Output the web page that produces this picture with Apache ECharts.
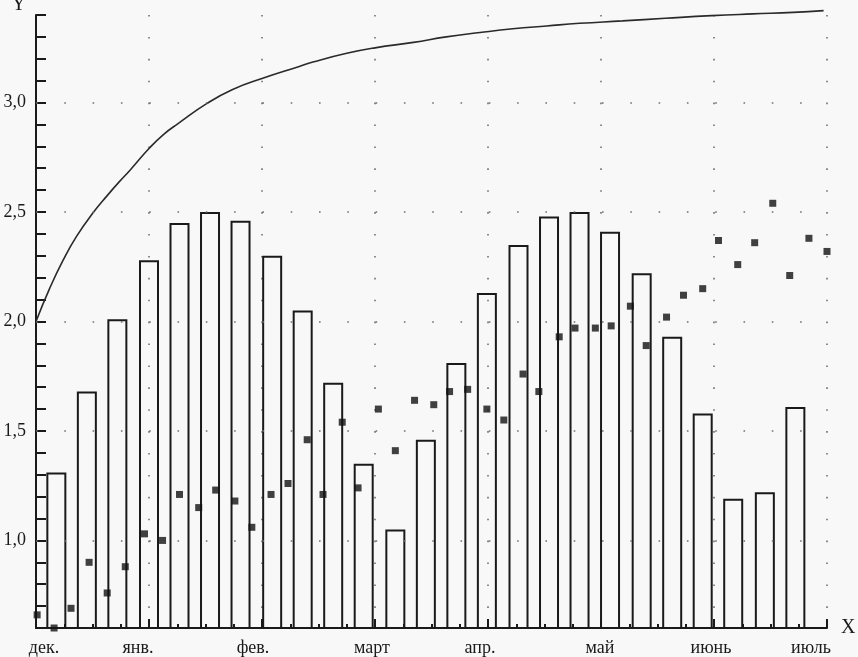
<!DOCTYPE html>
<html>
<head>
<meta charset="utf-8">
<script src="https://cdn.jsdelivr.net/npm/echarts@6/dist/echarts.min.js"></script>
<style>
html,body{margin:0;padding:0;background:#f8f8f8;}
#c{width:858px;height:657px;}
</style>
</head>
<body>
<div id="c"></div>
<script>
// Month labels at x = 0..7 (months from start of December)
const monthLabels = ['дек.', 'янв.', 'фев.', 'март', 'апр.', 'май', 'июнь', 'июль'];

// Bars (x in months, height in Y units)
const barX = [0.18, 0.45, 0.72, 1.00, 1.27, 1.54, 1.81, 2.09, 2.36, 2.63, 2.90, 3.18, 3.45,
              3.72, 3.99, 4.27, 4.54, 4.81, 5.08, 5.36, 5.63, 5.90, 6.17, 6.45, 6.72];
const barY = [1.31, 1.68, 2.01, 2.28, 2.45, 2.50, 2.46, 2.30, 2.05, 1.72, 1.35, 1.05, 1.46,
              1.81, 2.13, 2.35, 2.48, 2.50, 2.41, 2.22, 1.93, 1.58, 1.19, 1.22, 1.61];

// Square markers
const dotX = [0.01, 0.16, 0.31, 0.47, 0.63, 0.79, 0.96, 1.12, 1.27, 1.44, 1.59, 1.76, 1.91,
              2.08, 2.23, 2.40, 2.54, 2.71, 2.85, 3.03, 3.18, 3.35, 3.52, 3.66, 3.82, 3.99,
              4.14, 4.31, 4.45, 4.63, 4.77, 4.95, 5.09, 5.26, 5.40, 5.58, 5.73, 5.90, 6.04,
              6.21, 6.36, 6.52, 6.67, 6.84, 7.00];
const dotY = [0.66, 0.60, 0.69, 0.90, 0.76, 0.88, 1.03, 1.00, 1.21, 1.15, 1.23, 1.18, 1.06,
              1.21, 1.26, 1.46, 1.21, 1.54, 1.24, 1.60, 1.41, 1.64, 1.62, 1.68, 1.69, 1.60,
              1.55, 1.76, 1.68, 1.93, 1.97, 1.97, 1.98, 2.07, 1.89, 2.02, 2.12, 2.15, 2.37,
              2.26, 2.36, 2.54, 2.21, 2.38, 2.32];

// Saturation curve
const curveX = [0, 0.12, 0.24, 0.36, 0.51, 0.63, 0.74, 0.83, 1.00, 1.13, 1.26, 1.51, 1.74,
                2.00, 2.33, 2.45, 2.75, 3.00, 3.34, 3.63, 3.93, 4.22, 4.52, 4.81, 5.19, 5.57,
                5.98, 6.34, 6.70, 6.97];
const curveY = [2.00, 2.15, 2.28, 2.39, 2.50, 2.575, 2.64, 2.69, 2.79, 2.855, 2.905, 2.995, 3.06,
                3.11, 3.165, 3.185, 3.225, 3.25, 3.275, 3.30, 3.32, 3.337, 3.35, 3.362, 3.373, 3.385,
                3.397, 3.405, 3.412, 3.42];

// Horizontal dotted reference lines
const hGrid = [1.0, 1.5, 2.0, 2.5, 3.0];

const FONT = 'Liberation Serif';
const INK = '#1a1a1a';
const DOT = '#707070';

const zip = (a, b) => a.map((v, i) => [v, b[i]]);

// label nudges (px) so month names sit like in the original print
const nudge = [8, -11, -9, -3, -8, -1, -3, -16];
const rich = {};
nudge.forEach((n, i) => {
  rich['m' + i] = {
    fontFamily: FONT, fontSize: 18, color: INK,
    padding: n >= 0 ? [0, 0, 0, 2 * n] : [0, -2 * n, 0, 0]
  };
});

const chart = echarts.init(document.getElementById('c'), null, {renderer: 'canvas'});
chart.setOption({
  backgroundColor: '#f8f8f8',
  animation: false,
  grid: {left: 36, right: 31, top: 15, bottom: 29, containLabel: false, outerBoundsMode: 'none'},
  xAxis: {
    type: 'value', min: 0, max: 7, interval: 1,
    name: 'X', nameLocation: 'end', nameGap: 14,
    nameTextStyle: {fontFamily: FONT, fontSize: 20, color: INK, verticalAlign: 'middle', align: 'left'},
    axisLine: {show: true, onZero: false, lineStyle: {color: INK, width: 2}},
    axisTick: {show: true, inside: true, length: 9, lineStyle: {color: INK, width: 2}},
    minorTick: {show: true, splitNumber: 4, length: 4, lineStyle: {color: INK, width: 2}},
    axisLabel: {
      show: true, margin: 11, showMinLabel: true, showMaxLabel: true,
      formatter: v => { const i = Math.round(v); return '{m' + i + '|' + monthLabels[i] + '}'; },
      rich: rich
    },
    splitLine: {show: true, showMinLine: false, showMaxLine: true,
      lineStyle: {color: DOT, width: 1.6, type: [1.6, 20.3]}},
    minorSplitLine: {show: false}
  },
  yAxis: {
    type: 'value', min: 0.6, max: 3.4, interval: 0.1,
    name: 'Y', nameLocation: 'end', nameGap: 10,
    nameTextStyle: {fontFamily: FONT, fontSize: 20, color: INK, align: 'right', verticalAlign: 'middle', padding: [0, 10, 0, 0]},
    axisLine: {show: true, onZero: false, lineStyle: {color: INK, width: 2}},
    axisTick: {show: true, inside: true, length: 10, lineStyle: {color: INK, width: 2}},
    axisLabel: {
      show: true, margin: 10, fontFamily: FONT, fontSize: 18, color: INK,
      showMinLabel: true, showMaxLabel: true,
      formatter: v => {
        const t = Math.round(v * 10);
        return (t >= 10 && t % 5 === 0) ? (t / 10).toFixed(1).replace('.', ',') : '';
      }
    },
    splitLine: {show: false}
  },
  series: [
    {
      type: 'line', data: zip(curveX, curveY), smooth: 0.5,
      showSymbol: false, symbol: 'none', clip: false, z: 4,
      lineStyle: {color: '#2a2a2a', width: 1.6},
      markLine: {
        silent: true, symbol: 'none', label: {show: false},
        lineStyle: {color: DOT, width: 1.6, type: [1.6, 26.7]},
        data: hGrid.map(v => ({yAxis: v}))
      }
    },
    {
      type: 'bar', data: zip(barX, barY), barWidth: 20, z: 3,
      itemStyle: {color: 'rgba(255,255,255,0)', borderColor: INK, borderWidth: 2}
    },
    {
      type: 'scatter', data: zip(dotX, dotY), symbol: 'rect', symbolSize: 7, clip: false, z: 5,
      itemStyle: {color: '#111'}
    }
  ]
});
</script>
</body>
</html>
